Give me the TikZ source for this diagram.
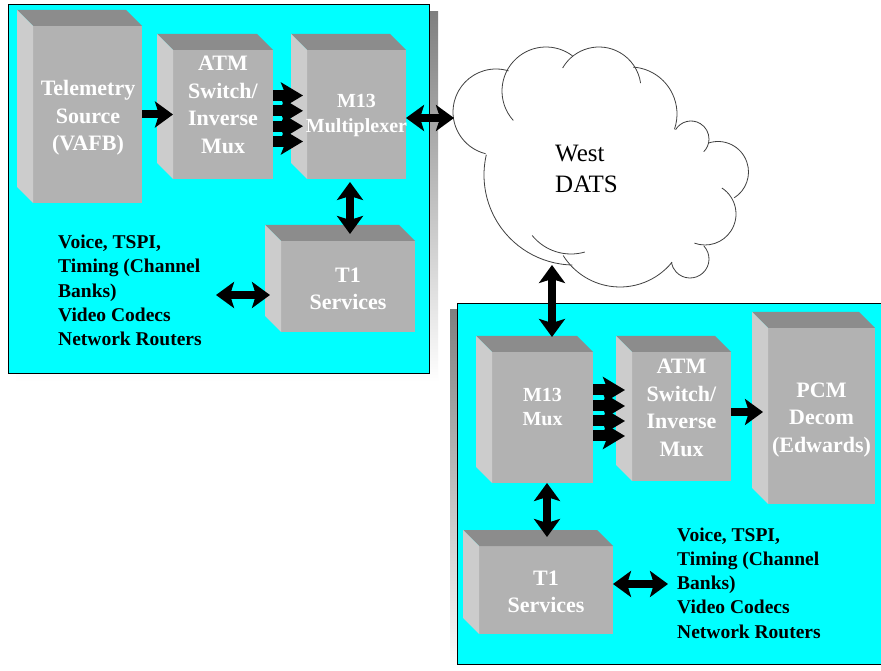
\documentclass[tikz,border=0pt]{standalone}
\usepackage{fontspec}
\setmainfont{Liberation Serif}
\usetikzlibrary{arrows.meta,calc}

\definecolor{panel}{HTML}{00FFFF}
\definecolor{shade}{HTML}{808080}
\definecolor{frontgray}{HTML}{B2B2B2}
\definecolor{topgray}{HTML}{8C8C8C}
\definecolor{sidegray}{HTML}{CCCCCC}

% top and left faces of a 3-D equipment block, drawn behind its front face node
\newcommand\slabfaces[1]{%
  \fill[topgray] (#1.north west) -- ++(-16,16) -- ($(#1.north east)+(-16,16)$) -- (#1.north east) -- cycle;
  \fill[sidegray] (#1.north west) -- ++(-16,16) -- ($(#1.south west)+(-16,16)$) -- (#1.south west) -- cycle;}

% one lobe of the network cloud: centre x, centre y, radius, start angle, end angle
\newcommand\lobe[5]{\draw[cloudline] (#1,#2) ++(#4:#3) arc[start angle=#4,end angle=#5,radius=#3];}

\begin{document}
\begin{tikzpicture}[x=1pt,y=1pt,
  face/.style={fill=frontgray, draw=none, inner sep=0pt, outer sep=0pt},
  lbl/.style={text=white, font=\bfseries\fontsize{22}{27.5}\selectfont, align=center, inner sep=0pt},
  lblsmall/.style={lbl, font=\bfseries\fontsize{20}{25}\selectfont},
  note/.style={font=\bfseries\fontsize{19.5}{24.2}\selectfont, align=left, anchor=north west, inner sep=0pt},
  cloudtext/.style={font=\fontsize{25}{30.5}\selectfont, align=left, anchor=north west, inner sep=0pt},
  tipA/.tip={Stealth[length=18pt,width=26pt,inset=4pt]},
  tipB/.tip={Stealth[length=22pt,width=26pt,inset=5pt]},
  fat/.style={line width=8pt, -tipA},
  fatboth/.style={line width=8pt, tipA-tipA},
  bus/.style={line width=11pt, -tipB},
  cloudline/.style={draw=black!75, line width=0.8pt},
]
\useasboundingbox (0,0) rectangle (881,670);
\clip (0,0) rectangle (881,670);
\fill[white] (0,0) rectangle (881,670);

% ---- site panels with drop shadows ----
\fill[shade] (16.5,288) rectangle (438,658);
\filldraw[fill=panel, draw=black, line width=0.8pt] (8,297) rectangle (429,666);
\fill[shade] (450,1) rectangle (890,360);
\filldraw[fill=panel, draw=black, line width=0.8pt] (457,6) rectangle (890,367);

% ---- West DATS cloud ----
\foreach \cx/\cy/\r in {496/558/43, 546/579/44, 599/581/42, 630/556/47, 691/531/18,
                         718/498/30.5, 705/456/31, 690/411/19, 620/450/67, 574/495/90}
  \fill[white] (\cx,\cy) circle[radius=\r];
\fill[white] (496,558) -- (546,579) -- (599,581) -- (630,556) -- (691,531) -- (718,498)
  -- (705,456) -- (690,411) -- (620,450) -- (574,495) -- cycle;
\lobe{496}{558}{43}{256}{73}
\lobe{546}{579}{44}{222}{53}
\lobe{599}{581}{42}{150}{8}
\lobe{630}{556}{47}{86}{-19}
\lobe{691}{531}{18}{149}{-45}
\lobe{718}{498}{30.5}{109}{-58}
\lobe{705}{456}{31}{57}{-110}
\lobe{690}{411}{19}{43}{-170}
\lobe{620}{450}{67}{-39}{-148}
\lobe{574}{495}{90}{-91}{-193}
\lobe{571}{466}{50}{219}{286}
\node[cloudtext] (dats) at (555,525) {West\\DATS};
\coordinate (cloudW) at (454,552);
\coordinate (cloudS) at (552,405);

% ---- equipment blocks, first site ----
\node[face, minimum width=109pt, minimum height=177pt] (tele) at (87.5,555.5) {};
\slabfaces{tele}
\node[face, minimum width=100pt, minimum height=129pt] (atmL) at (223,555.5) {};
\slabfaces{atmL}
\node[face, minimum width=99pt, minimum height=129pt] (m13L) at (356.5,555.5) {};
\slabfaces{m13L}
\node[face, minimum width=134pt, minimum height=91pt] (t1L) at (348,383.5) {};
\slabfaces{t1L}

\node[lbl] (teleT) at (88,552) {Telemetry\\Source\\(VAFB)};
\node[lbl] (atmLT) at (223,565) {ATM\\Switch/\\Inverse\\Mux};
\node[lblsmall] (m13LT) at (356.5,554) {M13\\Multiplexer};
\node[lbl] (t1LT) at (348,381) {T1\\Services};
\node[note] (svcLT) at (58,435) {Voice, TSPI,\\Timing (Channel\\Banks)\\Video Codecs\\Network Routers};
\coordinate (svcL) at (216,375);

% ---- equipment blocks, second site ----
\node[face, minimum width=101pt, minimum height=131pt] (m13R) at (542.5,252.5) {};
\slabfaces{m13R}
\node[face, minimum width=99pt, minimum height=129pt] (atmR) at (681.5,253.5) {};
\slabfaces{atmR}
\node[face, minimum width=107pt, minimum height=176pt] (pcm) at (821.5,254) {};
\slabfaces{pcm}
\node[face, minimum width=134pt, minimum height=88pt] (t1R) at (546,80) {};
\slabfaces{t1R}

\node[lblsmall, font=\bfseries\fontsize{20}{23.5}\selectfont] (m13RT) at (542.5,263) {M13\\Mux};
\node[lbl] (atmRT) at (681.5,262) {ATM\\Switch/\\Inverse\\Mux};
\node[lbl] (pcmT) at (821.5,250) {PCM\\Decom\\(Edwards)};
\node[lbl] (t1RT) at (546,78) {T1\\Services};
\node[note] (svcRT) at (677,142.5) {Voice, TSPI,\\Timing (Channel\\Banks)\\Video Codecs\\Network Routers};
\coordinate (svcR) at (668,86);

% ---- connectors, first site ----
\draw[fat] (tele.east) -- (atmL.west);
\foreach \o in {19,3.7,-11.7,-27}
  \draw[bus] ($(atmL.east)+(0,\o)$) -- ($(m13L.west)+(-4,\o)$);
\draw[fatboth] (m13L.east |- cloudW) -- (cloudW);
\draw[fatboth] ($(m13L.south)+(-6.5,-3)$) -- ($(t1L.north)+(2,7)$);
\draw[fatboth] (svcL) -- ($(svcL -| t1L.west)+(-11,0)$);

% ---- connectors, second site ----
\draw[fatboth] (cloudS) -- ($(m13R.north)+(9.5,15)$);
\foreach \o in {27.5,11.5,-3.5,-18.5}
  \draw[bus] ($(m13R.east)+(0,\o)$) -- ($(m13R.east -| atmR.west)+(-7,\o)$);
\draw[fat] ($(atmR.east)+(0,4.5)$) -- ($(atmR.east -| pcm.west)+(-5,4.5)$);
\draw[fatboth] ($(m13R.south)+(4.5,0)$) -- ($(t1R.north)+(1,9)$);
\draw[fatboth] (svcR -| t1R.east) -- (svcR);
\end{tikzpicture}
\end{document}
